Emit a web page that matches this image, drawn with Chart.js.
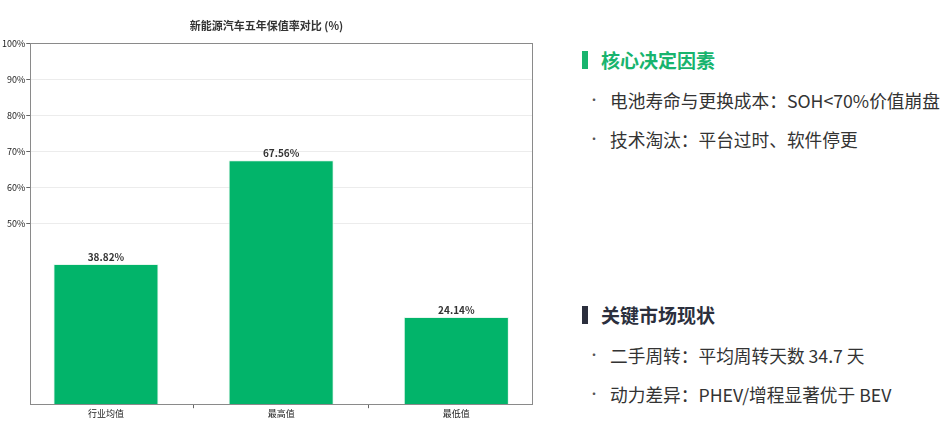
<!DOCTYPE html>
<html>
<head>
<meta charset="utf-8">
<script src="https://cdn.jsdelivr.net/npm/chart.js@4/dist/chart.umd.min.js"></script>
<style>
  html, body { margin: 0; padding: 0; background: #fff; }
  body { width: 950px; height: 444px; position: relative; overflow: hidden;
         font-family: "Noto Sans CJK SC", "Noto Sans", sans-serif; }
  #chartBox { position: absolute; left: 0; top: 0; width: 560px; height: 444px; }
  .side { position: absolute; left: 580px; width: 370px; color: #333; }
  .side h3 { margin: 0; font-size: 19px; font-weight: 700; line-height: 22px;
             padding-left: 21px; position: relative; }
  .side h3::before { content: ''; position: absolute; left: 2px; top: 2px;
                     width: 6px; height: 18px; }
  .green h3 { color: #18b46e; }
  .green h3::before { background: #18b46e; }
  .dark h3 { color: #2b2f3d; }
  .dark h3::before { background: #2b2f3d; }
  .side ul { list-style: none; margin: 0; padding: 0; }
  .side li { font-size: 17.7px; line-height: 22px; margin-top: 17.5px;
             padding-left: 30px; position: relative; color: #333; white-space: nowrap; }
  .side li::before { content: '•'; position: absolute; left: 8px; top: 0;
                     font-size: 12px; color: #555; }
</style>
</head>
<body>
<div id="chartBox"><canvas id="c"></canvas></div>

<div class="side green" style="top:49px;">
  <h3>核心决定因素</h3>
  <ul>
    <li>电池寿命与更换成本：SOH&lt;70%价值崩盘</li>
    <li>技术淘汰：平台过时、软件停更</li>
  </ul>
</div>

<div class="side dark" style="top:304px;">
  <h3>关键市场现状</h3>
  <ul>
    <li>二手周转：平均周转天数 34.7 天</li>
    <li>动力差异：PHEV/增程显著优于 BEV</li>
  </ul>
</div>

<script>
  /* chart data */
  var categories = ['行业均值', '最高值', '最低值'];
  var retention = [38.82, 67.56, 24.14];
  var chartTitle = '新能源汽车五年保值率对比 (%)';

  var fontFam = "'Noto Sans CJK SC', 'Noto Sans', sans-serif";

  // matplotlib-like frame around the plot
  var framePlugin = {
    id: 'frame',
    afterDatasetsDraw: function (chart) {
      var a = chart.chartArea, ctx = chart.ctx;
      ctx.save();
      ctx.strokeStyle = '#8a8a8a';
      ctx.lineWidth = 1;
      ctx.strokeRect(Math.round(a.left) + 0.5, Math.round(a.top) + 0.5,
        Math.round(a.right - a.left), Math.round(a.bottom - a.top));
      ctx.restore();
    }
  };

  // value labels above each bar
  var valueLabels = {
    id: 'valueLabels',
    afterDatasetsDraw: function (chart) {
      var ctx = chart.ctx;
      var meta = chart.getDatasetMeta(0);
      ctx.save();
      ctx.font = 'bold 10px ' + fontFam;
      ctx.fillStyle = '#333';
      ctx.textAlign = 'center';
      ctx.textBaseline = 'bottom';
      meta.data.forEach(function (bar, i) {
        ctx.fillText(retention[i].toFixed(2) + '%', bar.x, bar.y - 2);
      });
      ctx.restore();
    }
  };

  new Chart(document.getElementById('c'), {
    type: 'bar',
    data: {
      datasets: [{
        data: retention.map(function (v, i) { return { x: i, y: v }; }),
        backgroundColor: '#02b46a',
        borderColor: '#e6f7ee',
        borderWidth: 1,
        borderSkipped: 'bottom',
        barPercentage: 0.6,
        categoryPercentage: 1
      }]
    },
    options: {
      responsive: true,
      maintainAspectRatio: false,
      animation: false,
      layout: { padding: { left: 1, right: 28, top: 0, bottom: 25 } },
      plugins: {
        legend: { display: false },
        tooltip: { enabled: false },
        title: {
          display: true,
          text: chartTitle,
          color: '#333',
          font: { family: fontFam, size: 11, weight: 'bold' },
          padding: { top: 19, bottom: 11 }
        }
      },
      scales: {
        x: {
          type: 'linear',
          offset: false,
          min: -0.432,
          max: 2.432,
          afterBuildTicks: function (axis) {
            axis.ticks = categories.map(function (c, i) { return { value: i }; });
          },
          ticks: {
            color: '#222',
            font: { family: fontFam, size: 9 },
            padding: 0,
            maxRotation: 0,
            autoSkip: false,
            callback: function (v) { return categories[v]; }
          },
          grid: { drawOnChartArea: false, tickLength: 4, tickColor: '#666' },
          border: { display: false }
        },
        y: {
          min: 0,
          max: 100,
          ticks: {
            stepSize: 10,
            color: '#222',
            padding: 1,
            font: { family: fontFam, size: 9 },
            callback: function (v) { return v >= 50 ? v + '%' : null; }
          },
          grid: { color: '#ececec', tickLength: 4, tickColor: '#666' },
          border: { display: false }
        }
      }
    },
    plugins: [framePlugin, valueLabels]
  });
</script>
</body>
</html>
